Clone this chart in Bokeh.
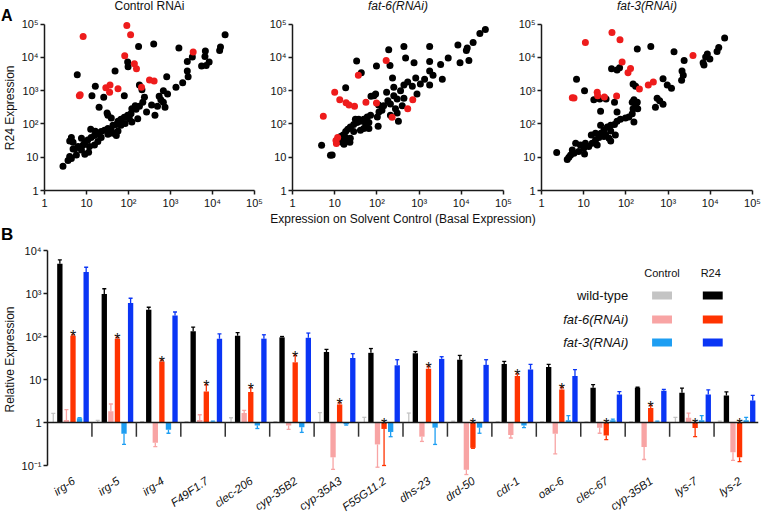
import math
from bokeh.plotting import figure
from bokeh.layouts import column, row
from bokeh.models import Range1d, FixedTicker
from bokeh.embed import file_html
from bokeh.resources import INLINE
from bokeh.core.properties import value

FONT = "Liberation Sans"

# ---------------- Panel A data: (log10 basal expression, log10 R24 expression) ----------------
ctrl_black = [(4.30,4.68),(4.19,4.31),(4.17,4.21),(3.83,4.19),(3.82,4.03),(3.92,3.86),(3.74,3.74),(3.85,3.76),
              (3.52,4.01),(3.40,3.88),(3.20,4.28),(2.60,4.40),(2.24,4.33),(1.98,3.86),(1.99,3.72),(1.68,3.59),
              (0.78,3.48),(1.21,3.13),(1.13,2.85),(1.30,2.50),(1.41,2.80),(1.90,2.85),(2.26,3.17),(2.32,3.03),
              (2.91,3.42),(3.40,3.59),(3.42,3.42),(3.29,3.24),(3.13,3.10),(2.83,3.00),(2.73,2.83),(2.77,2.73),
              (2.93,2.90),(2.83,2.65),(2.87,2.50),(2.69,2.53),(2.55,2.57),(2.63,2.26),(2.43,2.36),(2.34,2.65),
              (2.38,2.80),(2.26,2.53),(2.18,2.44),(2.06,2.31),(1.98,2.26),(1.90,2.20),(1.82,2.14),(1.75,2.08),
              (1.71,1.98),(1.63,1.96),(1.51,1.86),(1.43,1.81),(1.35,1.77),(1.27,1.69),(1.19,1.65),(1.11,1.59),
              (1.03,1.52),(0.96,1.45),(0.92,1.37),(0.80,1.32),(0.72,1.25),(0.64,1.59),(0.68,1.45),(0.60,1.49),
              (0.88,1.57),(1.10,1.84),(1.51,2.26),(1.49,2.33),(1.59,2.18),(1.92,2.01),(2.08,2.06),(2.22,2.16),
              (2.08,2.46),(2.16,2.55),(1.82,1.96),(1.75,1.79),(1.63,1.72),(1.51,1.69),(1.35,1.59),(1.27,1.47),
              (1.19,1.37),(1.05,1.15),(0.96,1.09),(0.88,1.22),(0.76,1.07),(0.68,1.25),(0.64,0.96),(0.56,0.90),
              (0.44,0.73),(0.60,1.02),(1.07,1.32),(1.21,1.78),(1.59,1.81),(1.71,1.65),(1.53,1.72),(2.02,2.16)]
ctrl_red = [(0.92,4.63),(1.96,4.96),(2.05,4.68),(1.91,4.05),(2.14,3.81),(2.19,3.66),(3.54,4.16),(2.50,3.32),
            (2.61,3.29),(2.31,3.10),(0.83,2.85),(0.85,2.88),(1.56,3.17),(1.46,3.09),(1.55,2.95),(1.75,3.06)]

fat6_black = [(4.57,4.84),(4.44,4.72),(4.28,4.45),(4.14,4.28),(4.12,4.21),(3.92,4.37),(4.18,3.91),(3.97,3.84),
              (3.69,3.98),(3.51,3.79),(3.25,4.33),(3.25,3.88),(2.88,3.84),(2.68,3.98),(2.64,4.33),(2.28,4.23),
              (2.31,3.76),(1.99,3.74),(1.52,3.89),(1.63,3.54),(2.37,3.38),(3.55,3.34),(3.33,3.46),(3.25,3.59),
              (3.13,3.34),(3.25,3.17),(3.03,3.20),(2.92,3.38),(2.84,3.13),(2.73,3.26),(2.95,2.90),(2.64,3.17),
              (2.56,3.00),(2.40,3.10),(2.23,2.95),(2.40,2.85),(2.48,2.75),(2.64,2.77),(2.60,2.55),(2.44,2.46),
              (2.32,2.60),(2.26,2.70),(2.16,2.55),(2.12,2.41),(2.05,2.36),(1.93,2.85),(1.86,2.83),(1.97,2.90),
              (2.04,2.57),(2.01,2.21),(2.03,1.93),(1.85,2.26),(1.77,2.21),(1.69,2.14),(1.61,2.08),(1.53,2.04),
              (1.45,1.98),(1.37,1.91),(1.31,1.84),(1.26,1.77),(1.20,1.67),(1.14,1.62),(1.37,1.57),(1.30,1.49),
              (1.22,1.39),(1.18,1.45),(1.10,1.47),(1.36,1.45),(1.45,1.77),(1.61,1.81),(1.69,1.86),(1.81,1.86),
              (1.73,2.01),(1.57,2.14),(1.49,2.14),(1.81,2.04),(2.32,2.26),(2.51,2.08),(2.48,2.33),(1.26,3.09),
              (0.69,1.36),(0.90,1.06),(0.94,1.07),(1.26,1.59)]
fat6_red = [(0.73,2.23),(1.00,2.95),(1.12,2.73),(1.27,2.64),(1.34,2.57),(1.47,2.53),(1.74,2.65),(1.56,3.46),
            (2.22,3.91),(1.99,2.63),(2.36,2.20),(2.73,2.46),(2.85,2.73),(1.07,1.59),(1.04,1.41),(1.03,1.50)]

fat3_black = [(4.34,4.58),(4.20,4.30),(4.16,4.18),(3.93,4.10),(3.89,4.01),(3.99,3.95),(3.83,3.84),(3.85,3.77),
              (3.38,3.91),(3.14,4.17),(2.59,4.33),(2.27,4.25),(1.66,3.66),(1.79,3.62),(1.85,3.69),(0.83,3.34),
              (1.02,3.00),(1.24,2.73),(1.38,2.75),(1.53,2.75),(1.40,2.38),(1.73,2.65),(1.79,2.36),(2.17,3.20),
              (2.23,3.13),(2.88,3.36),(2.98,3.17),(3.08,3.07),(3.33,3.59),(3.36,3.46),(3.32,3.31),(2.74,2.77),
              (2.80,2.70),(2.88,2.59),(2.70,2.50),(2.19,2.73),(2.15,2.65),(2.27,2.65),(2.23,2.55),(2.17,2.46),
              (2.28,2.46),(2.15,2.31),(2.19,2.06),(2.07,2.21),(1.99,2.18),(1.87,2.14),(1.79,2.08),(1.73,1.98),
              (1.64,1.96),(1.56,1.91),(1.40,1.96),(1.41,1.72),(1.64,1.79),(1.52,1.67),(1.75,1.67),(1.64,1.49),
              (1.60,1.57),(1.48,1.62),(1.36,1.59),(1.28,1.52),(1.20,1.42),(1.12,1.32),(1.04,1.42),(1.00,1.27),
              (0.92,1.37),(0.88,1.17),(0.81,1.42),(0.73,1.22),(0.77,1.12),(0.69,1.07),(0.65,1.00),(0.61,0.93),
              (0.36,1.14),(1.02,1.10),(1.32,1.37),(1.18,1.67),(1.48,1.81),(1.28,1.72)]
fat3_red = [(0.73,2.79),(0.77,2.78),(1.04,4.45),(1.67,4.75),(1.86,4.53),(1.91,3.86),(2.11,3.67),(2.05,3.54),
            (1.32,2.95),(1.33,2.85),(1.49,2.81),(1.78,2.84),(2.32,3.05),(2.53,3.17),(2.65,3.26),(3.59,4.06)]

panel_titles = ["Control RNAi", "fat-6(RNAi)", "fat-3(RNAi)"]
panel_title_styles = ["normal", "italic", "italic"]

# ---------------- Panel B data (log10 relative expression; *_err = log10 end of error bar) ----------------
genes = ["irg-6", "irg-5", "irg-4", "F49F1.7", "clec-206", "cyp-35B2", "cyp-35A3", "F55G11.2",
         "dhs-23", "drd-50", "cdr-1", "oac-6", "clec-67", "cyp-35B1", "lys-7", "lys-2"]
wt_ctrl       = [0.01, 0.01, 0.01, 0.01, 0.01, 0.01, 0.01, 0.01, 0.01, 0.01, 0.01, 0.01, 0.01, 0.01, 0.01, 0.01]
wt_ctrl_err   = [0.21, 0.05, 0.02, 0.02, 0.11, 0.02, 0.23, 0.12, 0.22, 0.03, 0.02, 0.015, 0.015, 0.015, 0.12, 0.03]
wt_r24        = [3.69, 2.99, 2.62, 2.12, 2.02, 1.98, 1.64, 1.62, 1.61, 1.46, 1.36, 1.29, 0.81, 0.81, 0.69, 0.63]
wt_r24_err    = [3.78, 3.11, 2.68, 2.22, 2.09, 2.00, 1.70, 1.72, 1.65, 1.56, 1.42, 1.35, 0.88, 0.82, 0.80, 0.71]
fat6_ctrl     = [0.06, 0.26, -0.47, 0.06, 0.22, -0.07, -0.81, -0.51, -0.33, -1.10, -0.29, -0.26, -0.12, -0.57, 0.11, -0.69]
fat6_ctrl_err = [0.30, 0.43, -0.56, 0.18, 0.28, -0.16, -1.09, -1.04, -0.44, -1.21, -0.36, -0.73, -0.25, -0.86, 0.22, -0.88]
fat6_r24      = [2.02, 1.95, 1.42, 0.72, 0.71, 1.40, 0.42, -0.15, 1.25, -0.59, 1.08, 0.77, -0.30, 0.34, -0.13, -0.81]
fat6_r24_err  = [2.04, 1.98, 1.45, 0.88, 0.81, 1.56, 0.46, -1.00, 1.31, -0.60, 1.13, 0.82, -0.40, 0.40, -0.33, -0.91]
fat3_ctrl     = [0.10, -0.26, -0.17, 0.02, -0.07, -0.11, -0.04, -0.22, -0.12, -0.12, -0.07, 0.05, 0.05, 0.02, 0.05, 0.05]
fat3_ctrl_err = [0.11, -0.51, -0.25, 0.03, -0.14, -0.23, -0.06, -0.33, -0.51, -0.25, -0.12, 0.16, 0.08, 0.03, 0.16, 0.12]
fat3_r24      = [3.50, 2.78, 2.49, 1.95, 1.95, 1.97, 1.50, 1.33, 1.48, 1.34, 1.23, 1.08, 0.65, 0.74, 0.65, 0.51]
fat3_r24_err  = [3.61, 2.89, 2.57, 2.06, 2.04, 2.08, 1.60, 1.46, 1.53, 1.46, 1.35, 1.23, 0.72, 0.77, 0.76, 0.63]
significant   = [True] * 16

legend_rows = ["wild-type", "fat-6(RNAi)", "fat-3(RNAi)"]
legend_cols = ["Control", "R24"]
a_xlabel = "Expression on Solvent Control (Basal Expression)"
a_ylabel = "R24 Expression"
b_ylabel = "Relative Expression"

C_GRAY, C_BLACK, C_PINK, C_RED = "#c4c4c4", "#000000", "#f8a4a4", "#ff3300"
C_LBLUE, C_BLUE, C_DOT_RED = "#1e9ef2", "#0a35f5", "#ee1c1c"
AX = "#1a1a1a"
TXT = "#111111"

decades = [1, 10, 100, 1000, 10000, 100000]
dec_labels = {1: "1", 10: "10", 100: "10\u00b2", 1000: "10\u00b3", 10000: "10\u2074", 100000: "10\u2075"}

# ---------------- layout geometry (pixels) ----------------
SIDE_W = 18
A_H, A_BOTTOM = 211, 18          # row A height, room for x tick labels
A_FH = A_H - A_BOTTOM            # frame height (frame starts at top of row)
A_DATA_PX = 169                  # pixels used by the 5 decades (top 24 px of the frame hold the titles)
B_H = 519 - A_H
B_DATA_BOTTOM = 54               # px from frame bottom to y = 0.1
B_DATA_PX = 215                  # px used by the 5 decades 0.1 .. 1e4


def a_y(px_from_top):            # data y (log axis) of a position in row A
    return 10 ** ((A_FH - px_from_top) / A_DATA_PX * 5)


def b_y(px_from_bottom):         # data y (log axis) of a position in the B frame
    return 10 ** (-1 + (px_from_bottom - B_DATA_BOTTOM) / B_DATA_PX * 5)


def style_axis(ax, ticks, labels, bounds):
    ax.ticker = FixedTicker(ticks=ticks, minor_ticks=[])
    ax.major_label_overrides = labels
    ax.bounds = bounds
    ax.axis_line_color = AX
    ax.axis_line_width = 1.5
    ax.major_tick_line_color = AX
    ax.major_tick_line_width = 1.5
    ax.major_tick_out = 4
    ax.major_tick_in = 0
    ax.minor_tick_line_color = None
    ax.major_label_text_font = FONT
    ax.major_label_text_font_size = "11px"
    ax.major_label_text_color = TXT
    ax.major_label_standoff = 2


def side_fig(height, frame_h):
    # its frame is aligned with the neighbouring plot frames (frame_h tall)
    f = figure(width=SIDE_W, height=height, x_range=Range1d(0, SIDE_W), y_range=Range1d(0, frame_h),
               output_backend="svg", toolbar_location=None, title=None,
               x_axis_location=None, y_axis_location=None,
               min_border_left=0, min_border_right=0, min_border_top=0, min_border_bottom=height - frame_h)
    f.grid.visible = False
    f.outline_line_color = None
    return f


def scatter_panel(width, left, right, black, red, title, tstyle):
    p = figure(width=width, height=A_H, x_axis_type="log", y_axis_type="log",
               x_range=Range1d(1, 1e5), y_range=Range1d(1, a_y(0)),
               output_backend="svg", toolbar_location=None, title=None,
               min_border_left=left, min_border_right=right, min_border_top=0, min_border_bottom=A_BOTTOM)
    p.grid.visible = False
    p.outline_line_color = None
    style_axis(p.xaxis[0], decades, dec_labels, (1, 1e5))
    style_axis(p.yaxis[0], decades, dec_labels, (1, 1e5))
    p.scatter(x=[10 ** a for a, b in black], y=[10 ** b for a, b in black], size=7,
              fill_color="black", line_color=None)
    p.scatter(x=[10 ** a for a, b in red], y=[10 ** b for a, b in red], size=7,
              fill_color=C_DOT_RED, line_color=None)
    p.text(x=[10 ** 2.5], y=[a_y(6)], text=[title], text_align="center", text_baseline="middle",
           text_font=value(FONT), text_font_size="12px", text_font_style=tstyle, text_color=TXT)
    return p


nA = side_fig(A_H, A_FH)
nA.text(x=[0.5], y=[A_FH - 15], text=["A"], text_align="left", text_baseline="alphabetic",
        text_font=value(FONT), text_font_size="16px", text_font_style="bold", text_color="black")
nA.text(x=[9.5], y=[A_FH - 109], text=[a_ylabel], angle=math.pi / 2, text_align="center",
        text_baseline="middle", text_font=value(FONT), text_font_size="12px", text_color=TXT)

p1 = scatter_panel(246, 25, 10, ctrl_black, ctrl_red, panel_titles[0], panel_title_styles[0])
p2 = scatter_panel(249, 28, 10, fat6_black, fat6_red, panel_titles[1], panel_title_styles[1])
p3 = scatter_panel(249, 28, 10, fat3_black, fat3_red, panel_titles[2], panel_title_styles[2])

# ---------------- Panel B ----------------
BW, BL, BR = 762 - SIDE_W, 25, 4
FW = BW - BL - BR
n = len(genes)
pb = figure(width=BW, height=B_H, y_axis_type="log", x_range=Range1d(0, n),
            y_range=Range1d(b_y(0), b_y(B_H)),
            output_backend="svg", toolbar_location=None, title=None, x_axis_location=None,
            min_border_left=BL, min_border_right=BR, min_border_top=0, min_border_bottom=0)
pb.grid.visible = False
pb.outline_line_color = None
style_axis(pb.yaxis[0], [0.1, 1, 10, 100, 1000, 10000],
           {0.1: "10\u207b\u00b9", 1: "1", 10: "10", 100: "10\u00b2", 1000: "10\u00b3", 10000: "10\u2074"},
           (0.1, 1e4))

series = [(wt_ctrl, wt_ctrl_err, C_GRAY), (wt_r24, wt_r24_err, C_BLACK),
          (fat6_ctrl, fat6_ctrl_err, C_PINK), (fat6_r24, fat6_r24_err, C_RED),
          (fat3_ctrl, fat3_ctrl_err, C_LBLUE), (fat3_r24, fat3_r24_err, C_BLUE)]
step, bar_w, cap = 0.148, 0.12, 0.045
for k, (vals, errs, col) in enumerate(series):
    xs = [i + 0.5 + (k - 2.5) * step for i in range(n)]
    tops = [10 ** v for v in vals]
    ends = [10 ** e for e in errs]
    pb.vbar(x=xs, width=bar_w, bottom=1, top=tops, fill_color=col, line_color=None)
    pb.segment(x0=xs, y0=tops, x1=xs, y1=ends, line_color=col, line_width=1.3)
    pb.segment(x0=[x - cap for x in xs], y0=ends, x1=[x + cap for x in xs], y1=ends,
               line_color=col, line_width=1.3)
    if k == 3:
        sx = [x for x, s in zip(xs, significant) if s]
        sy = [10 ** max(e, 0) for e, s in zip(errs, significant) if s]
        pb.text(x=sx, y=sy, text=["*"] * len(sx), text_align="center", text_baseline="alphabetic",
                text_font=value(FONT), text_font_size="16px", text_color=TXT, y_offset=2)

# baseline at 1 and group separators
pb.segment(x0=[0], y0=[1], x1=[n], y1=[1], line_color=AX, line_width=1.5)
seps = list(range(1, n))
pb.segment(x0=seps, y0=[1] * len(seps), x1=seps, y1=[10 ** -0.33] * len(seps),
           line_color="#333333", line_width=1.5)

# rotated gene labels under the groups
gx = [i + 0.5 + 4 / FW * n for i in range(n)]
pb.text(x=gx, y=[b_y(40)] * n, text=genes, angle=math.radians(35), text_align="right", text_baseline="middle",
        text_font=value(FONT), text_font_size="11.5px", text_font_style="italic", text_color=TXT)

# x-axis title of panel A (sits above panel B's data area)
pb.text(x=[n / 2], y=[b_y(B_H - 7.5)], text=[a_xlabel], text_align="center", text_baseline="middle",
        text_font=value(FONT), text_font_size="12px", text_color=TXT)


def fx(px):
    return px / FW * n


# legend (positions in frame pixels from the frame's left / the y = 0.1 line)
for j, txt in enumerate(legend_cols):
    pb.text(x=[fx([618, 667][j])], y=[b_y(B_DATA_BOTTOM + 193)], text=[txt], text_align="center",
            text_baseline="middle", text_font=value(FONT), text_font_size="11px", text_color=TXT)
row_y = [170, 146, 123]
row_colors = [(C_GRAY, C_BLACK), (C_PINK, C_RED), (C_LBLUE, C_BLUE)]
for r, txt in enumerate(legend_rows):
    yy = B_DATA_BOTTOM + row_y[r]
    pb.text(x=[fx(584)], y=[b_y(yy)], text=[txt], text_align="right", text_baseline="middle",
            text_font=value(FONT), text_font_size="13px",
            text_font_style="normal" if r == 0 else "italic", text_color=TXT)
    for j, (l0, l1) in enumerate([(608, 628), (659, 679)]):
        pb.quad(left=fx(l0), right=fx(l1), bottom=b_y(yy - 4), top=b_y(yy + 4),
                fill_color=row_colors[r][j], line_color=None)

nB = side_fig(B_H, B_H)
nB.text(x=[0.5], y=[B_H - 22.5], text=["B"], text_align="left", text_baseline="middle",
        text_font=value(FONT), text_font_size="17px", text_font_style="bold", text_color="black")
nB.text(x=[9.5], y=[B_H - 148], text=[b_ylabel], angle=math.pi / 2, text_align="center",
        text_baseline="middle", text_font=value(FONT), text_font_size="12px", text_color=TXT)

layout = column(row(nA, p1, p2, p3, spacing=0), row(nB, pb, spacing=0), spacing=0)
open("out.html", "w").write(file_html(layout, INLINE))
